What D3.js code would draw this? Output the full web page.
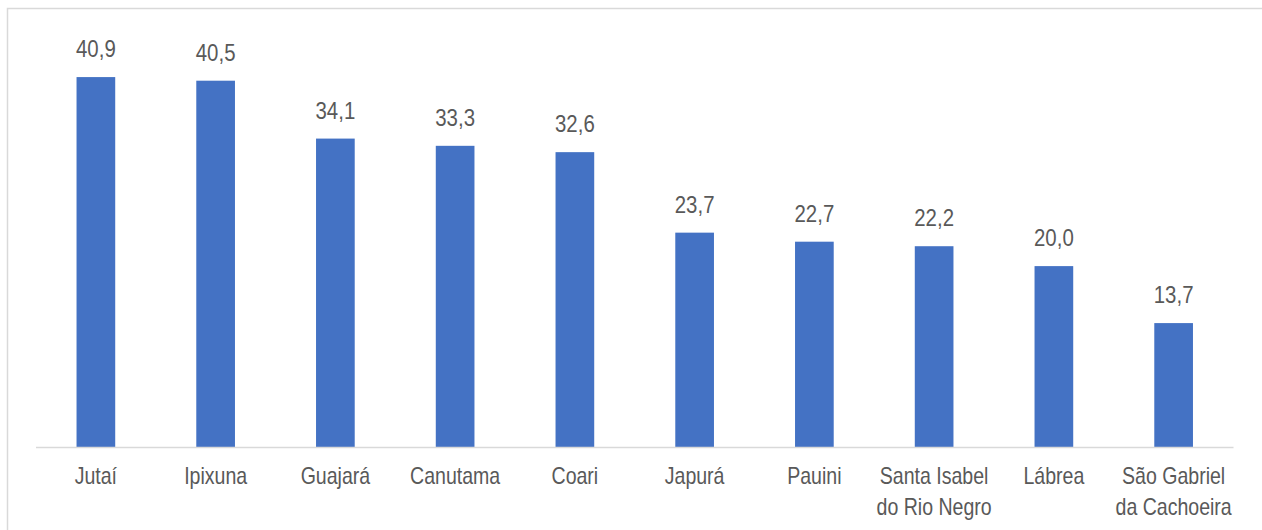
<!DOCTYPE html>
<html>
<head>
<meta charset="utf-8">
<script src="https://cdn.jsdelivr.net/npm/d3@7"></script>
<style>
  html, body { margin: 0; padding: 0; background: #ffffff; }
  svg { display: block; }
  text { font-family: "Liberation Sans", Arial, sans-serif; fill: #595959; }
</style>
</head>
<body>
<script>
// Municipalities (label lines) and their values
const categories = [
  ["Jutaí"],
  ["Ipixuna"],
  ["Guajará"],
  ["Canutama"],
  ["Coari"],
  ["Japurá"],
  ["Pauini"],
  ["Santa Isabel", "do Rio Negro"],
  ["Lábrea"],
  ["São Gabriel", "da Cachoeira"]
];
const values = [40.9, 40.5, 34.1, 33.3, 32.6, 23.7, 22.7, 22.2, 20.0, 13.7];
const yDomain = [0, 45];

const W = 1262, H = 530;
const NARROW = 0.85; // horizontal condensing of all text
const svg = d3.select("body").append("svg").attr("width", W).attr("height", H);

// outer chart frame (extends past the right and bottom edges)
svg.append("rect")
  .attr("x", 7.5).attr("y", 8.5)
  .attr("width", W + 20).attr("height", H + 20)
  .attr("fill", "none").attr("stroke", "#d9d9d9").attr("stroke-width", 1.5);

const keys = categories.map((c, i) => i);
const x = d3.scaleBand().domain(keys).range([36, 1233.5]).paddingInner(0.677).paddingOuter(0.3385);
const y = d3.scaleLinear().domain(yDomain).range([447, 40]);
const cx = i => x(i) + x.bandwidth() / 2;

const fmt = v => d3.format(".1f")(v).replace(".", ",");

svg.append("g").selectAll("rect")
  .data(values)
  .join("rect")
  .attr("x", (d, i) => x(i))
  .attr("y", d => y(d))
  .attr("width", x.bandwidth())
  .attr("height", d => y(0) - y(d))
  .attr("fill", "#4472c4");

// baseline
svg.append("line")
  .attr("x1", 36).attr("x2", 1233.5)
  .attr("y1", y(0) + 0.5).attr("y2", y(0) + 0.5)
  .attr("stroke", "#d9d9d9").attr("stroke-width", 1.5);

// value labels
svg.append("g").selectAll("text")
  .data(values)
  .join("text")
  .attr("transform", (d, i) => `translate(${cx(i)},${y(d) - 20}) scale(${NARROW},1)`)
  .attr("text-anchor", "middle")
  .attr("font-size", 24)
  .text(d => fmt(d));

// category labels
const cat = svg.append("g").selectAll("text")
  .data(categories)
  .join("text")
  .attr("transform", (d, i) => `translate(${cx(i)},484) scale(${NARROW},1)`)
  .attr("text-anchor", "middle")
  .attr("font-size", 23);
cat.selectAll("tspan")
  .data(d => d)
  .join("tspan")
  .attr("x", 0)
  .attr("dy", (d, j) => j === 0 ? 0 : 31)
  .text(d => d);
</script>
</body>
</html>
